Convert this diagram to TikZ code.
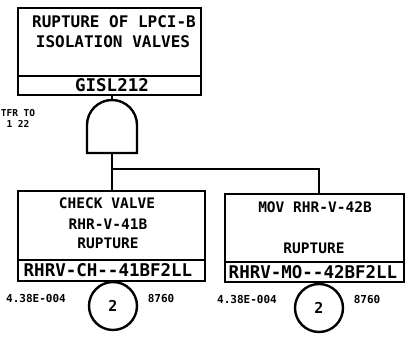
\documentclass[tikz,border=0pt]{standalone}
\usepackage{fontspec}
\setmonofont{DejaVu Sans Mono}
\begin{document}
\begin{tikzpicture}[x=1pt,y=-1pt,
  line width=2.4pt,
  big/.style={font=\ttfamily\bfseries\fontsize{14.5}{14.5}\selectfont,inner sep=0pt},
  bigger/.style={font=\ttfamily\bfseries\fontsize{16}{16}\selectfont,inner sep=0pt},
  code/.style={font=\ttfamily\bfseries\fontsize{17.5}{17.5}\selectfont,inner sep=0pt},
  small/.style={font=\ttfamily\bfseries\fontsize{11}{11}\selectfont,inner sep=0pt},
  tiny/.style={font=\ttfamily\bfseries\fontsize{9.5}{11}\selectfont,inner sep=0pt},
  evbox/.style={draw,line width=2.4pt,inner sep=0pt},
  circ/.style={draw,circle,minimum size=48pt,inner sep=0pt,font=\ttfamily\bfseries\fontsize{15}{15}\selectfont}]
\useasboundingbox (0,0) rectangle (412,345);
% top event
\node[evbox,minimum width=183pt,minimum height=87pt,anchor=north west] (top) at (17,7) {};
\draw (17,76) -- (200,76);
\node[bigger] (t1) at (114,22) {RUPTURE OF LPCI-B};
\node[bigger] (t2) at (113,42) {ISOLATION VALVES};
\node[code] (tc) at (112,85.5) {GISL212};
% AND gate
\draw (87,153) -- (87,125) arc[start angle=180,end angle=360,radius=25] -- (137,153) -- cycle;
\coordinate (gtop) at (112,100);
\coordinate (gbot) at (112,153);
\draw (top.south -| gtop) -- (gtop);
\node[tiny,align=center] (tfr) at (18,118) {TFR TO\\1 22};
% left event
\node[evbox,minimum width=187pt,minimum height=90pt,anchor=north west] (L) at (17,190) {};
\draw (17,260) -- (204,260);
\node[big] (l1) at (107,203) {CHECK VALVE};
\node[big] (l2) at (108,224) {RHR-V-41B};
\node[big] (l3) at (108,243) {RUPTURE};
\node[code] (lc) at (108,270.5) {RHRV-CH--41BF2LL};
% right event
\node[evbox,minimum width=179pt,minimum height=88pt,anchor=north west] (R) at (224,193) {};
\draw (224,262) -- (403,262);
\node[big] (r1) at (315,207) {MOV RHR-V-42B};
\node[big] (r3) at (314,248) {RUPTURE};
\node[code] (rc) at (313,272) {RHRV-MO--42BF2LL};
% connectors
\coordinate (br) at (112,169);
\draw (gbot) -- (gbot |- L.north);
\draw (br) -- (319,169) -- (319,193);
% transfer circles
\node[circ] (c1) at (113,306) {2};
\node[circ] (c2) at (319,308) {2};
\node[small] (p1) at (36,298) {4.38E-004};
\node[small] (n1) at (161,298) {8760};
\node[small] (p2) at (247,299) {4.38E-004};
\node[small] (n2) at (367,299) {8760};
\end{tikzpicture}
\end{document}
